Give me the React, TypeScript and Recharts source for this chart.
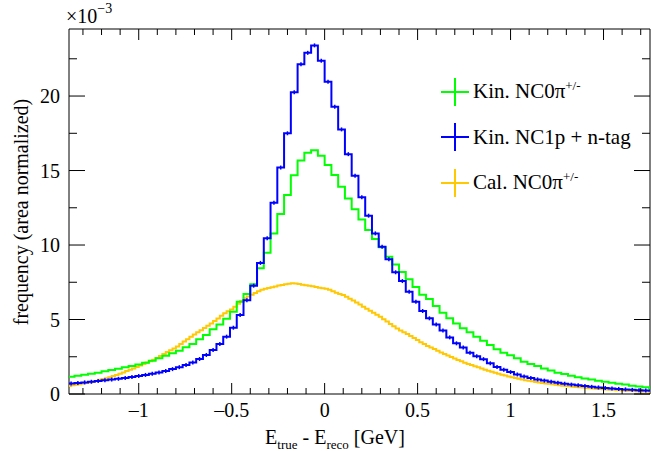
import { LineChart, Line, XAxis, YAxis, ReferenceArea, Legend } from 'recharts'

// histogram binning (4 GeV over 110 bins, only part of it is shown)
const BIN_W = 4 / 110
const FIRST_BIN = -38
const FINE_BIN_W = BIN_W / 2
const FIRST_FINE_BIN = -76

// values are in units of 1e-3 (axis shows x10^-3)
const kinNC0pi = [
  1.16, 1.23, 1.29, 1.36, 1.43, 1.52, 1.61, 1.7, 1.79, 1.88,
  1.98, 2.1, 2.24, 2.4, 2.56, 2.73, 2.9, 3.13, 3.35, 3.67,
  3.96, 4.34, 4.67, 5.05, 5.52, 6.19, 6.71, 7.36, 8.44, 9.48,
  10.78, 12.08, 13.36, 14.68, 15.68, 16.2, 16.36, 16.0,
  15.37, 14.7, 13.91, 13.13, 12.4, 11.72, 11.0, 10.4, 9.85, 9.22,
  8.7, 8.19, 7.7, 7.18, 6.67, 6.38, 5.91, 5.46, 5.08, 4.74,
  4.41, 4.14, 3.85, 3.58, 3.29, 3.0, 2.77, 2.6, 2.4, 2.17,
  2.01, 1.88, 1.72, 1.57, 1.43, 1.34, 1.22, 1.12, 1.04, 0.97,
  0.89, 0.83, 0.76, 0.69, 0.63, 0.56, 0.5, 0.45, 0.39,
]

const kinNC1p = [
  0.7, 0.74, 0.78, 0.82, 0.87, 0.92, 0.97, 1.02, 1.08, 1.14,
  1.21, 1.28, 1.36, 1.45, 1.55, 1.67, 1.8, 1.95, 2.12, 2.35,
  2.62, 2.95, 3.35, 3.85, 4.45, 5.3, 6.3, 7.27, 8.8, 10.45,
  12.84, 15.2, 17.5, 20.25, 22.13, 22.9, 23.4, 22.37,
  20.96, 19.28, 17.76, 16.1, 14.65, 13.2, 11.97, 10.78, 9.89, 9.04,
  8.17, 7.58, 6.87, 6.2, 5.57, 5.08, 4.66, 4.27, 3.8, 3.4,
  3.12, 2.77, 2.53, 2.34, 2.06, 1.81, 1.63, 1.47, 1.31, 1.18,
  1.07, 0.98, 0.9, 0.82, 0.75, 0.69, 0.63, 0.58, 0.53, 0.48,
  0.44, 0.4, 0.37, 0.34, 0.31, 0.28, 0.26, 0.23, 0.21,
]

const calNC0pi = [
  0.54, 0.58, 0.62, 0.66, 0.7, 0.74, 0.78, 0.82, 0.88, 0.95,
  1.0, 1.06, 1.13, 1.2, 1.28, 1.36, 1.45, 1.54, 1.63, 1.72,
  1.82, 1.92, 2.02, 2.11, 2.2, 2.3, 2.42, 2.55, 2.68, 2.82,
  2.93, 3.05, 3.19, 3.35, 3.52, 3.68, 3.84, 4.0, 4.14, 4.28,
  4.43, 4.58, 4.73, 4.9, 5.07, 5.25, 5.42, 5.56, 5.68, 5.85,
  6.05, 6.25, 6.42, 6.55, 6.66, 6.78, 6.9, 7.0, 7.06, 7.12,
  7.17, 7.22, 7.28, 7.32, 7.36, 7.4, 7.43, 7.42, 7.38, 7.34,
  7.3, 7.26, 7.23, 7.18, 7.13, 7.1, 7.07, 7.0, 6.9, 6.8,
  6.72, 6.64, 6.52, 6.4, 6.27, 6.14, 6.0, 5.86, 5.72, 5.59,
  5.46, 5.32, 5.18, 5.02, 4.86, 4.7, 4.55, 4.4, 4.27, 4.14,
  4.02, 3.9, 3.76, 3.62, 3.48, 3.35, 3.23, 3.12, 3.02, 2.9,
  2.79, 2.68, 2.58, 2.48, 2.38, 2.28, 2.19, 2.1, 2.02, 1.94,
  1.87, 1.79, 1.71, 1.63, 1.56, 1.49, 1.42, 1.36, 1.3, 1.24,
  1.18, 1.12, 1.07, 1.02, 0.97, 0.93, 0.89, 0.85, 0.81, 0.77,
  0.74, 0.71, 0.68, 0.65, 0.62, 0.59, 0.56, 0.54, 0.52, 0.49,
  0.47, 0.45, 0.43, 0.41, 0.39, 0.37, 0.36, 0.34, 0.32, 0.31,
  0.29, 0.28, 0.26, 0.25, 0.23, 0.22, 0.21, 0.2, 0.19, 0.18,
  0.17, 0.16, 0.15,
]

const seriesNames = ['Kin. NC0π', 'Kin. NC1p + n-tag', 'Cal. NC0π']
const seriesSup = ['+/-', '', '+/-']
const seriesColors = ['#00ff00', '#0000ff', '#ffc800']

const xTicks = [
  -1.3, -1.2, -1.1, -1, -0.9, -0.8, -0.7, -0.6, -0.5, -0.4, -0.3, -0.2, -0.1,
  0, 0.1, 0.2, 0.3, 0.4, 0.5, 0.6, 0.7, 0.8, 0.9, 1, 1.1, 1.2, 1.3, 1.4, 1.5, 1.6, 1.7,
]
const xMajor = [-1, -0.5, 0, 0.5, 1, 1.5]
const yTicks = [0, 2.5, 5, 7.5, 10, 12.5, 15, 17.5, 20, 22.5]
const yMajor = [0, 5, 10, 15, 20]

const X_DOMAIN: [number, number] = [-1.375, 1.75]
const Y_DOMAIN: [number, number] = [0, 24.5]

const PLOT = { left: 69, right: 650, top: 29, bottom: 394 }
const FONT = '"Liberation Serif", "DejaVu Serif", serif'

function toSteps(values: number[], first: number, width: number) {
  const pts = values.map((v, i) => ({ x: (first + i) * width, y: v }))
  pts.push({ x: (first + values.length) * width, y: values[values.length - 1] })
  return pts
}

const greenSteps = toSteps(kinNC0pi, FIRST_BIN, BIN_W)
const blueSteps = toSteps(kinNC1p, FIRST_BIN, BIN_W)
const yellowSteps = toSteps(calNC0pi, FIRST_FINE_BIN, FINE_BIN_W)
const blueCentres = kinNC1p
  .map((v, i) => ({ x: (FIRST_BIN + i + 0.5) * BIN_W, y: v }))
  .filter((p) => p.x < X_DOMAIN[1])

const fmt = (v: number) => (v < 0 ? '\u2013' + String(-v) : String(v))
const isMajor = (list: number[], v: number) => list.some((m) => Math.abs(m - v) < 1e-9)

function XTick(props: any) {
  const { x, payload } = props
  const major = isMajor(xMajor, payload.value)
  const len = major ? 11 : 6
  return (
    <g>
      <line x1={x} x2={x} y1={PLOT.bottom} y2={PLOT.bottom - len} stroke="#000" />
      <line x1={x} x2={x} y1={PLOT.top} y2={PLOT.top + len} stroke="#000" />
      {major && (
        <text x={x} y={PLOT.bottom + 23} textAnchor="middle" fontSize={20} fontFamily={FONT} fill="#000">
          {fmt(payload.value)}
        </text>
      )}
    </g>
  )
}

function YTick(props: any) {
  const { y, payload } = props
  const major = isMajor(yMajor, payload.value)
  const len = major ? 16 : 8
  return (
    <g>
      <line x1={PLOT.left} x2={PLOT.left + len} y1={y} y2={y} stroke="#000" />
      <line x1={PLOT.right} x2={PLOT.right - len} y1={y} y2={y} stroke="#000" />
      {major && (
        <text x={PLOT.left - 9} y={y + 7} textAnchor="end" fontSize={20} fontFamily={FONT} fill="#000">
          {fmt(payload.value)}
        </text>
      )}
    </g>
  )
}

function XTitle() {
  return (
    <text x={335} y={444} textAnchor="middle" fontSize={20} fontFamily={FONT} fill="#000">
      <tspan>E</tspan>
      <tspan fontSize={13} dy={5}>true</tspan>
      <tspan dy={-5}> - E</tspan>
      <tspan fontSize={13} dy={5}>reco</tspan>
      <tspan dy={-5}> [GeV]</tspan>
    </text>
  )
}

function YTitle() {
  return (
    <g fontFamily={FONT} fill="#000">
      <text transform="rotate(-90)" x={-212} y={28} textAnchor="middle" fontSize={20}>
        frequency (area normalized)
      </text>
      <text x={66} y={23} fontSize={20}>
        ×10
        <tspan fontSize={14} dy={-10}>−3</tspan>
      </text>
    </g>
  )
}

function ErrMark(props: any) {
  const { cx, cy, index } = props
  return <line key={index} x1={cx} x2={cx} y1={cy - 2} y2={cy + 2} stroke="#0000ff" strokeWidth={1.5} />
}

function LegendBox() {
  return (
    <div style={{ fontFamily: FONT, fontSize: 21, color: '#000' }}>
      {seriesNames.map((name, i) => (
        <div key={name} style={{ display: 'flex', alignItems: 'center', height: 45.5 }}>
          <svg width={30} height={28} style={{ marginRight: 3 }}>
            <line x1={1} x2={29} y1={14} y2={14} stroke={seriesColors[i]} strokeWidth={2} />
            <line x1={15} x2={15} y1={0} y2={28} stroke={seriesColors[i]} strokeWidth={2} />
          </svg>
          <span style={{ whiteSpace: 'nowrap' }}>
            {name}
            {seriesSup[i] && (
              <span style={{ fontSize: 13, position: 'relative', top: -8 }}>{seriesSup[i]}</span>
            )}
          </span>
        </div>
      ))}
    </div>
  )
}

export default function App() {
  return (
    <div style={{ position: 'absolute', left: 0, top: 0, background: '#fff' }}>
      <LineChart width={672} height={451} margin={{ top: 29, right: 22, bottom: 0, left: 0 }}>
        <XAxis
          type="number"
          dataKey="x"
          domain={X_DOMAIN}
          allowDataOverflow
          ticks={xTicks}
          interval={0}
          tick={(p: any) => <XTick {...p} />}
          tickLine={false}
          axisLine={false}
          height={57}
          label={<XTitle />}
        />
        <YAxis
          type="number"
          domain={Y_DOMAIN}
          allowDataOverflow
          ticks={yTicks}
          interval={0}
          tick={(p: any) => <YTick {...p} />}
          tickLine={false}
          axisLine={false}
          width={69}
          label={<YTitle />}
        />
        <Legend
          layout="vertical"
          align="center"
          verticalAlign="middle"
          content={() => <LegendBox />}
          wrapperStyle={{ left: 440, top: 69, width: 230 }}
        />
        <Line data={yellowSteps} dataKey="y" name={seriesNames[2]} type="stepAfter" stroke={seriesColors[2]} strokeWidth={2} dot={false} isAnimationActive={false} />
        <Line data={greenSteps} dataKey="y" name={seriesNames[0]} type="stepAfter" stroke={seriesColors[0]} strokeWidth={2} dot={false} isAnimationActive={false} />
        <Line data={blueSteps} dataKey="y" name={seriesNames[1]} type="stepAfter" stroke={seriesColors[1]} strokeWidth={2} dot={false} isAnimationActive={false} />
        <Line data={blueCentres} dataKey="y" stroke="none" legendType="none" dot={(p: any) => <ErrMark {...p} />} isAnimationActive={false} />
        <ReferenceArea x1={X_DOMAIN[0]} x2={X_DOMAIN[1]} y1={Y_DOMAIN[0]} y2={Y_DOMAIN[1]} fill="none" stroke="#000" strokeWidth={1} />
      </LineChart>
    </div>
  )
}
